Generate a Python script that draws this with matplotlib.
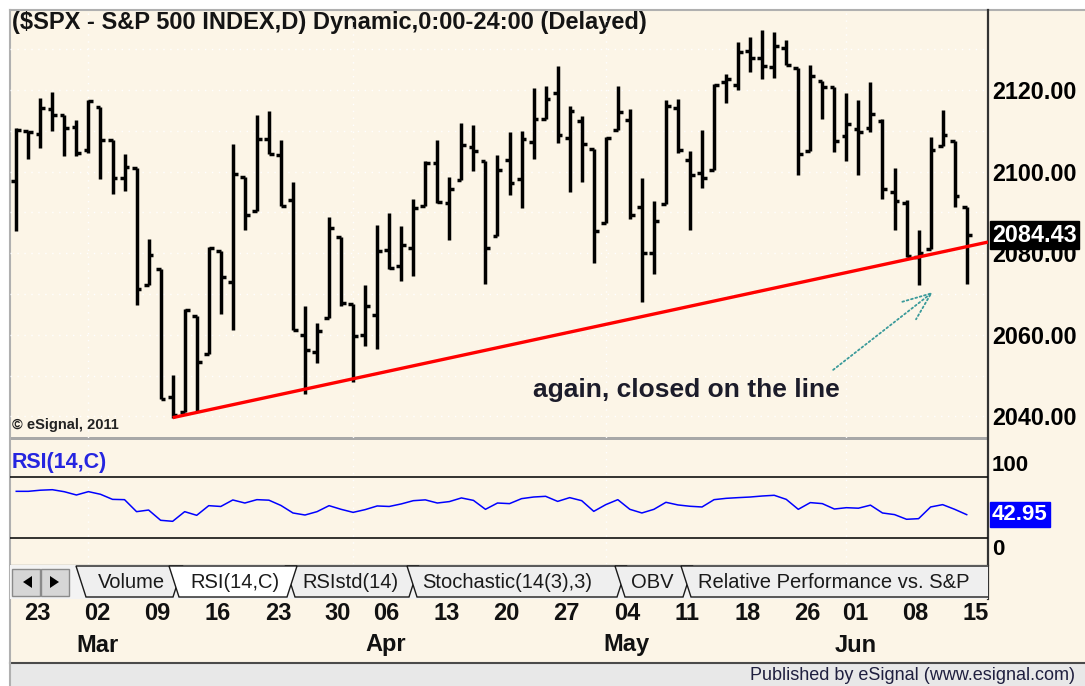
import matplotlib.pyplot as plt
from matplotlib.patches import Rectangle, Polygon
from matplotlib import transforms
import numpy as np
import pandas as pd

plt.rcParams['font.family'] = ['Liberation Sans', 'DejaVu Sans']

# trading days on the chart (market shut on Good Friday and Memorial Day)
dates = pd.bdate_range('2015-02-20', '2015-06-15')
dates = dates[~dates.isin(pd.to_datetime(['2015-04-03', '2015-05-25']))]

opens = [2097.65, 2109.83, 2109.10, 2115.30, 2113.91, 2110.88,
         2105.23, 2115.76, 2107.72, 2098.54, 2100.91,
         2072.25, 2076.14, 2044.69, 2041.10, 2064.56,
         2055.35, 2080.59, 2072.84, 2098.69, 2090.32,
         2107.99, 2103.94, 2093.10, 2059.94, 2055.78,
         2064.11, 2084.05, 2067.63, 2060.03,
         2064.87, 2080.79, 2076.94, 2081.29, 2091.51,
         2102.03, 2092.28, 2097.82, 2105.96, 2102.58,
         2084.11, 2102.82, 2098.27, 2107.21, 2112.80,
         2119.29, 2108.35, 2112.49, 2105.52, 2087.38,
         2110.23, 2112.63, 2091.26, 2079.96, 2092.13,
         2115.56, 2102.87, 2099.62, 2100.43, 2122.07,
         2121.30, 2129.45, 2127.79, 2125.55, 2130.36,
         2125.34, 2105.13, 2122.27, 2120.66,
         2108.64, 2110.41, 2110.64, 2112.35, 2095.09,
         2092.34, 2079.07, 2081.12, 2106.24, 2107.43,
         2091.34]
highs = [2110.61, 2110.05, 2117.94, 2119.59, 2113.91, 2112.74,
         2117.52, 2115.76, 2107.72, 2104.25, 2100.91,
         2083.49, 2076.14, 2050.08, 2066.41, 2064.56,
         2081.41, 2080.59, 2106.85, 2098.69, 2113.92,
         2114.86, 2107.63, 2097.43, 2067.15, 2062.83,
         2088.97, 2084.05, 2067.63, 2072.17,
         2086.99, 2089.81, 2086.69, 2093.31, 2102.61,
         2107.65, 2098.62, 2111.91, 2111.30, 2102.58,
         2103.94, 2109.64, 2109.98, 2120.49, 2120.92,
         2125.92, 2116.04, 2113.65, 2105.52, 2108.41,
         2120.95, 2115.24, 2098.42, 2092.90, 2117.66,
         2117.69, 2105.06, 2110.19, 2121.45, 2123.89,
         2131.78, 2133.02, 2134.72, 2134.28, 2132.15,
         2125.34, 2126.22, 2122.27, 2120.66,
         2119.15, 2117.59, 2121.92, 2112.89, 2100.99,
         2093.01, 2085.62, 2108.50, 2115.02, 2107.43,
         2091.34]
lows = [2085.44, 2103.00, 2105.87, 2109.89, 2103.76, 2103.75,
        2104.50, 2098.26, 2094.49, 2095.22, 2067.27,
        2072.21, 2044.16, 2039.69, 2041.10, 2041.17,
        2055.35, 2065.08, 2061.23, 2085.56, 2090.32,
        2104.42, 2091.50, 2061.05, 2045.50, 2052.96,
        2064.11, 2067.04, 2048.38, 2057.32,
        2056.52, 2076.10, 2073.30, 2074.29, 2091.51,
        2092.33, 2083.24, 2097.82, 2100.02, 2072.37,
        2084.11, 2094.38, 2091.05, 2103.19, 2112.80,
        2107.04, 2094.89, 2097.41, 2077.59, 2087.38,
        2110.23, 2088.46, 2067.93, 2074.99, 2092.13,
        2104.58, 2085.57, 2096.04, 2100.43, 2116.81,
        2120.01, 2124.50, 2122.59, 2122.95, 2126.06,
        2099.18, 2105.13, 2112.86, 2104.89,
        2102.54, 2099.14, 2109.61, 2093.23, 2085.67,
        2079.11, 2072.14, 2081.12, 2106.24, 2091.33,
        2072.49]
closes = [2110.30, 2109.66, 2115.48, 2113.86, 2110.74, 2104.50,
          2117.39, 2107.78, 2098.53, 2101.04, 2071.26,
          2079.43, 2044.16, 2040.24, 2065.95, 2053.40,
          2081.19, 2074.28, 2099.50, 2089.27, 2108.10,
          2104.42, 2091.50, 2061.05, 2056.15, 2061.02,
          2086.24, 2067.89, 2059.69, 2066.96,
          2080.62, 2076.33, 2081.90, 2091.18, 2102.06,
          2092.43, 2095.84, 2106.63, 2104.99, 2081.18,
          2100.40, 2097.29, 2107.96, 2112.93, 2117.69,
          2108.92, 2114.76, 2106.85, 2085.51, 2108.29,
          2114.49, 2089.46, 2080.15, 2088.00, 2116.10,
          2105.33, 2099.12, 2098.48, 2121.10, 2122.73,
          2129.20, 2127.83, 2125.85, 2130.82, 2126.06,
          2104.20, 2123.48, 2120.79, 2107.39,
          2111.73, 2109.60, 2114.07, 2095.84, 2092.83,
          2079.28, 2080.15, 2105.20, 2108.86, 2094.11,
          2084.43]
rsi = [65.9, 65.9, 67.0, 67.5, 65.5, 62.3,
       65.6, 63.0, 58.0, 57.7, 45.9,
       47.5, 37.4, 36.4, 45.9, 42.3,
       51.8, 51.0, 57.4, 54.4, 57.7,
       57.2, 52.0, 44.6, 42.6, 45.9,
       51.8, 48.2, 45.2, 47.9,
       51.5, 51.0, 53.5, 56.7, 57.5,
       54.4, 55.8, 59.4, 57.0, 48.2,
       54.4, 53.8, 58.7, 60.3, 61.0,
       56.0, 59.7, 56.7, 46.2, 52.8,
       57.7, 48.2, 44.6, 48.2, 55.1,
       52.5, 51.2, 50.5, 57.7, 59.0,
       59.7, 60.3, 61.3, 62.0, 58.0,
       48.2, 54.8, 53.8, 48.5,
       49.8, 49.3, 52.3, 44.6, 43.0,
       38.4, 39.0, 50.5, 52.8, 48.2,
       42.95]

last_price = 2084.43
last_rsi = 42.95
# support line drawn from the Mar 11 low
trend_a = (13, 2039.69)
trend_b = (79, 2081.6)
price_ticks = [2040, 2060, 2080, 2100, 2120]
rsi_bands = [80, 20]
tab_names = ['Volume', 'RSI(14,C)', 'RSIstd(14)', 'Stochastic(14(3),3)', 'OBV',
             'Relative Performance vs. S&P']
title = '($SPX - S&P 500 INDEX,D) Dynamic,0:00-24:00 (Delayed)'
note = 'again, closed on the line'

W, H = 1085, 686
cream = '#FCF5E7'
fig = plt.figure(figsize=(W / 100, H / 100), dpi=100)
fig.patch.set_facecolor('white')


def px_axes(x0, y0, x1, y1, **kw):
    return fig.add_axes([x0 / W, 1 - y1 / H, (x1 - x0) / W, (y1 - y0) / H], **kw)


# background / frame in pixel coordinates
bg = px_axes(0, 0, W, H, zorder=-5)
bg.set_xlim(0, W)
bg.set_ylim(H, 0)
bg.axis('off')
bg.add_patch(Rectangle((10, 10), W - 10, 652, fc=cream, ec='none'))
bg.add_patch(Rectangle((10, 663), W - 10, 23, fc='#E8E8E8', ec='none'))
bg.plot([10, W], [662.5, 662.5], color='#4a4a4a', lw=1.5)
bg.plot([10, W], [10, 10], color='#B0B0B0', lw=1.5)
bg.plot([10, 10], [10, H], color='#B0B0B0', lw=1.5)
bg.add_patch(Rectangle((10, 436.5), 978, 3.5, fc='#A8A8A8', ec='none'))
bg.plot([10, 988], [564.5, 564.5], color='#9a9a9a', lw=1)
bg.plot([988, 988], [10, 599], color='#333333', lw=1.6)

x = np.arange(len(dates))
xlim = (-0.52, 80.77)

# ---- price panel
ax = px_axes(10, 10, 988, 438)
ax.set_facecolor('none')
ax.set_xlim(*xlim)
ax.set_ylim(2034.7, 2139.6)
for s in ax.spines.values():
    s.set_visible(False)

month_starts = [i for i in range(1, len(dates)) if dates[i].month != dates[i - 1].month]
ax.hlines(np.arange(2040, 2140, 10), *xlim, colors='white', linestyles=(0, (1, 4)), lw=1, zorder=0)
ax.vlines(month_starts, 2034.7, 2139.6, colors='white', linestyles=(0, (1, 4)), lw=1, zorder=0)

ax.vlines(x, lows, highs, color='black', lw=2.5, zorder=3)
ax.hlines(opens, x - 0.4, x, color='black', lw=2.5, zorder=3)
ax.hlines(closes, x, x + 0.4, color='black', lw=2.5, zorder=3)

slope = (trend_b[1] - trend_a[1]) / (trend_b[0] - trend_a[0])
ax.plot([trend_a[0], xlim[1]], [trend_a[1], trend_a[1] + slope * (xlim[1] - trend_a[0])],
        color='#FF0000', lw=2.4, zorder=4, solid_capstyle='butt')

ax.set_xticks([])
ax.yaxis.tick_right()
ax.set_yticks(price_ticks)
ax.set_yticklabels(['%.2f' % p for p in price_ticks], fontweight='bold')
ax.tick_params(axis='y', length=0, pad=3, labelsize=16.8, labelcolor='black')

right_tr = transforms.blended_transform_factory(ax.transAxes, ax.transData)
ax.text(1 + 4 / 978, last_price, '%.2f' % last_price, transform=right_tr, ha='left', va='center',
        color='white', fontsize=16.8, fontweight='bold', clip_on=False, zorder=10,
        bbox=dict(boxstyle='square,pad=0.1', fc='black', ec='black'))

ax.text(42.95, 2046.5, note, fontsize=19, fontweight='bold', color='#1c1c2a', va='center')
ax.annotate('', xy=(76.2, 2070.5), xytext=(67.9, 2051.4),
            arrowprops=dict(arrowstyle='->,head_length=1.0,head_width=0.4', color='#3a9a9a',
                            lw=1.3, linestyle=(0, (1, 1.5)), shrinkA=0, shrinkB=0,
                            mutation_scale=20))

# ---- RSI panel
r = px_axes(10, 440, 988, 564)
r.set_facecolor('none')
r.set_xlim(*xlim)
r.set_ylim(-5.6, 116.4)
for s in r.spines.values():
    s.set_visible(False)
r.set_xticks([])
r.set_yticks([])
r.vlines(month_starts, -5.6, 116.4, colors='white', linestyles=(0, (1, 4)), lw=1, zorder=0)
r.hlines(rsi_bands, *xlim, colors='#111111', lw=1.2)
r.plot(x, rsi, color='#0000FF', lw=1.1)
r.text(2 / 978, 0.815, 'RSI(14,C)', transform=r.transAxes, color='#2525E0', fontsize=15.5,
       fontweight='bold', va='center', ha='left')
rtr = transforms.blended_transform_factory(r.transAxes, r.transData)
r.text(1 + 4 / 978, 101.5, '100', transform=rtr, ha='left', va='top', fontsize=16,
       fontweight='bold', clip_on=False)
r.text(1 + 4 / 978, -2, '0', transform=rtr, ha='left', va='bottom', fontsize=16,
       fontweight='bold', clip_on=False)
r.text(1 + 4 / 978, last_rsi, '%.2f' % last_rsi, transform=rtr, ha='left', va='center',
       color='white', fontsize=16, fontweight='bold', clip_on=False,
       bbox=dict(boxstyle='square,pad=0.08', fc='#0000FF', ec='#0000FF'))

# ---- tab strip
tb = px_axes(10, 565, 988, 599)
tb.set_xlim(10, 988)
tb.set_ylim(599, 565)
tb.axis('off')
tb.add_patch(Rectangle((10, 565), 978, 34, fc='#F3F3F3', ec='none'))
for bx, tri in [(12, [(32, 576), (32, 588), (23, 582)]), (41, [(50, 576), (50, 588), (59, 582)])]:
    tb.add_patch(Rectangle((bx, 569), 28, 27, fc='#D6D6D6', ec='#8a8a8a', lw=1))
    tb.add_patch(Polygon(tri, closed=True, fc='black', ec='none'))

tab_edges = [(76, 183), (169, 297), (285, 419), (407, 627), (615, 693), (681, 1010)]
text_x = [98, 190, 302, 422, 631, 698]
active = 1
order = [i for i in range(len(tab_names)) if i != active] + [active]
for i in order:
    xl, xr = tab_edges[i]
    tb.add_patch(Polygon([(xl, 566), (xr, 566), (xr - 10, 597), (xl + 10, 597)], closed=True,
                         fc='white' if i == active else '#EFEFEF', ec='#1a1a1a', lw=1,
                         zorder=2 + (5 if i == active else i * 0.1)))
    tb.text(text_x[i], 582, tab_names[i], fontsize=14.5, color='#1a1a1a', va='center',
            ha='left', zorder=2.05 + (5 if i == active else i * 0.1), clip_on=True)

# ---- date axis labels
dtr = transforms.blended_transform_factory(ax.transData, bg.transData)
week_starts = [i for i in range(1, len(dates)) if dates[i].weekday() < dates[i - 1].weekday()]
prev_month = dates[week_starts[0]].month
for k, i in enumerate(week_starts):
    bg.text(i + 0.75, 614, '%02d' % dates[i].day, transform=dtr, ha='center', va='center',
            fontsize=17, fontweight='bold', color='#111111')
    if k > 0 and dates[i].month != prev_month:
        bg.text(i + 0.75, 645, dates[i].strftime('%b'), transform=dtr, ha='center',
                va='center', fontsize=17, fontweight='bold', color='#111111')
    prev_month = dates[i].month

bg.text(12, 22, title, ha='left', va='center', fontsize=17, fontweight='bold', color='#141414')
bg.text(12, 425, '\u00a9 eSignal, 2011', ha='left', va='center', fontsize=10.5,
        fontweight='bold', color='#222222')
bg.text(1075, 675, 'Published by eSignal (www.esignal.com)', ha='right', va='center',
        fontsize=13, color='#1f1f3f')

fig.savefig('out.png', dpi=100)
